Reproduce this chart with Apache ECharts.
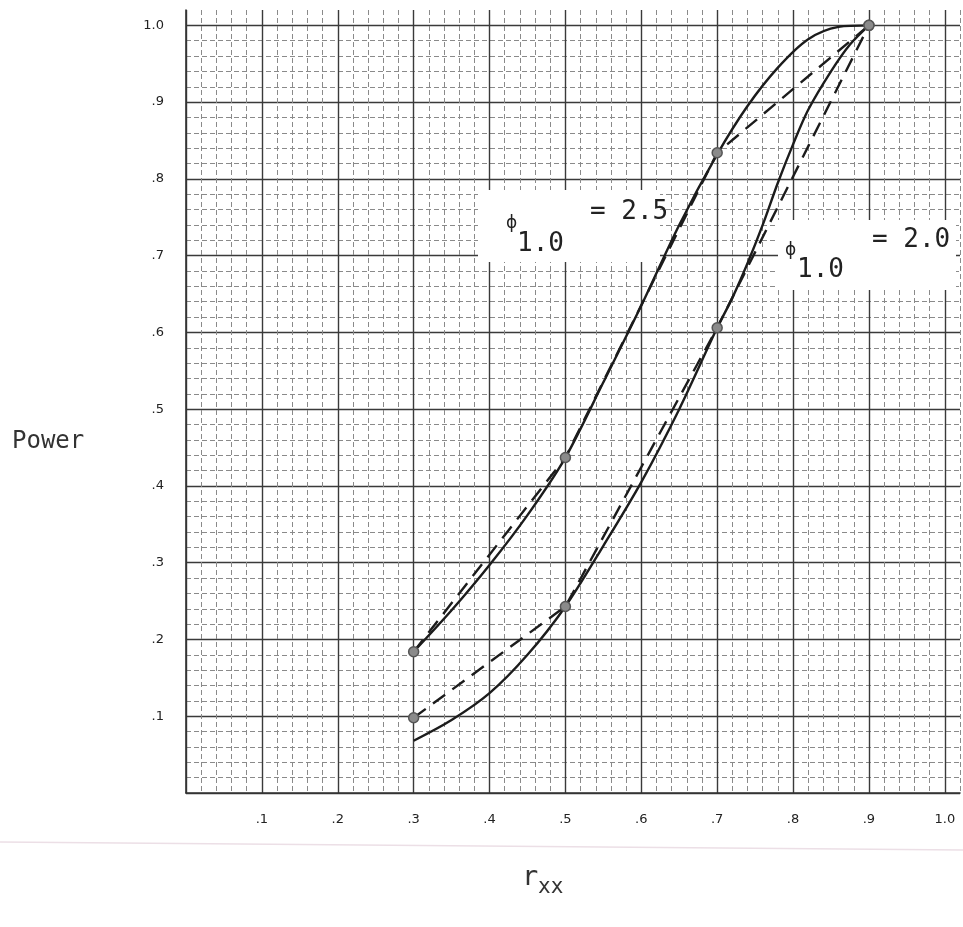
<!DOCTYPE html>
<html>
<head>
<meta charset="utf-8">
<script src="https://cdn.jsdelivr.net/npm/echarts@6/dist/echarts.min.js"></script>
<style>
  html, body { margin: 0; padding: 0; background: #fff; }
  #main { width: 963px; height: 927px; }
</style>
</head>
<body>
<div id="main"></div>
<script>
// theoretical points (markers, joined by dashed lines)
var rxxPoints = [0.3, 0.5, 0.7, 0.9];
var powerDashed25 = [0.184, 0.437, 0.834, 1.0];
var powerDashed20 = [0.098, 0.243, 0.606, 1.0];

// smooth curves (solid)
var rxxSolid25 = [0.30, 0.35, 0.40, 0.45, 0.50, 0.55, 0.60, 0.65, 0.70, 0.74, 0.78, 0.82, 0.86, 0.90];
var powerSolid25 = [0.184, 0.238, 0.297, 0.362, 0.437, 0.535, 0.635, 0.740, 0.832, 0.895, 0.945, 0.982, 0.998, 1.0];

var rxxSolid20 = [0.30, 0.35, 0.40, 0.45, 0.50, 0.55, 0.60, 0.65, 0.70, 0.72, 0.74, 0.76, 0.78, 0.80, 0.82, 0.85, 0.875, 0.90];
var powerSolid20 = [0.068, 0.095, 0.130, 0.180, 0.243, 0.322, 0.405, 0.500, 0.606, 0.645, 0.690, 0.740, 0.795, 0.845, 0.890, 0.940, 0.975, 1.0];

function pairs(xs, ys) {
  var out = [];
  for (var i = 0; i < xs.length; i++) out.push([xs[i], ys[i]]);
  return out;
}

function tickLabel(v) {
  if (v < 0.05 || v > 1.01) return '';
  return v > 0.95 ? '1.0' : '.' + Math.round(v * 10);
}

var chart = echarts.init(document.getElementById('main'));

var minorLine = { show: true, lineStyle: { color: '#8a8a8a', width: 1, type: [5, 3] } };
var majorLine = { show: true, showMaxLine: false, lineStyle: { color: '#3a3a3a', width: 1.4 } };
var labelStyle = { fontFamily: 'DejaVu Sans', fontSize: 13, color: '#222' };

var lineColor = '#1c1c1c';
var markerStyle = { color: '#8a8a8a', borderColor: '#555', borderWidth: 1.5 };

var option = {
  backgroundColor: '#fff',
  animation: false,
  grid: { left: 186, right: 3, top: 10, bottom: 134 },
  xAxis: [{
    // graph paper minor lines
    type: 'value', min: 0, max: 1.02, interval: 0.02,
    axisLine: { show: false }, axisTick: { show: false }, axisLabel: { show: false },
    splitLine: minorLine
  }, {
    type: 'value', min: 0, max: 1.02, interval: 0.1, position: 'bottom',
    axisLine: { show: true, lineStyle: { color: '#333', width: 1.6 } },
    axisTick: { show: false },
    axisLabel: Object.assign({ margin: 20, formatter: tickLabel }, labelStyle),
    splitLine: majorLine
  }],
  yAxis: [{
    type: 'value', min: 0, max: 1.02, interval: 0.02,
    axisLine: { show: false }, axisTick: { show: false }, axisLabel: { show: false },
    splitLine: { show: true, showMaxLine: false, lineStyle: minorLine.lineStyle }
  }, {
    type: 'value', min: 0, max: 1.02, interval: 0.1, position: 'left',
    axisLine: { show: true, lineStyle: { color: '#333', width: 1.6 } },
    axisTick: { show: false },
    axisLabel: Object.assign({ margin: 22, formatter: tickLabel }, labelStyle),
    splitLine: majorLine
  }],
  graphic: [
    { type: 'rect', z: 1, shape: { x: 478, y: 190, width: 182, height: 72 }, style: { fill: '#fff' } },
    { type: 'text', z: 1, x: 506, y: 224, style: { text: 'ϕ', font: '17px "DejaVu Sans"', fill: '#222', verticalAlign: 'middle' } },
    { type: 'text', z: 1, x: 517, y: 244, style: { text: '1.0', font: '26px "DejaVu Sans Mono"', fill: '#222', verticalAlign: 'middle' } },
    { type: 'text', z: 1, x: 590, y: 212, style: { text: '= 2.5', font: '26px "DejaVu Sans Mono"', fill: '#222', verticalAlign: 'middle' } },

    { type: 'rect', z: 1, shape: { x: 778, y: 220, width: 178, height: 70 }, style: { fill: '#fff' } },
    { type: 'text', z: 1, x: 785, y: 251, style: { text: 'ϕ', font: '17px "DejaVu Sans"', fill: '#222', verticalAlign: 'middle' } },
    { type: 'text', z: 1, x: 797, y: 270, style: { text: '1.0', font: '26px "DejaVu Sans Mono"', fill: '#222', verticalAlign: 'middle' } },
    { type: 'text', z: 1, x: 872, y: 240, style: { text: '= 2.0', font: '26px "DejaVu Sans Mono"', fill: '#222', verticalAlign: 'middle' } },

    { type: 'text', x: 12, y: 442, style: { text: 'Power', font: '24px "DejaVu Sans Mono"', fill: '#333', verticalAlign: 'middle' } },
    { type: 'text', x: 522, y: 878, style: { text: 'r', font: '27px "DejaVu Sans Mono"', fill: '#333', verticalAlign: 'middle' } },
    { type: 'text', x: 538, y: 888, style: { text: 'xx', font: '21px "DejaVu Sans Mono"', fill: '#333', verticalAlign: 'middle' } },

    { type: 'line', shape: { x1: 0, y1: 842, x2: 963, y2: 850 }, style: { stroke: '#ecdfe6', lineWidth: 1.5 } }
  ],
  series: [{
    name: 'phi2.5 curve', type: 'line', xAxisIndex: 1, yAxisIndex: 1,
    data: pairs(rxxSolid25, powerSolid25), smooth: 0.3, showSymbol: false,
    lineStyle: { color: lineColor, width: 2.4 }
  }, {
    name: 'phi2.0 curve', type: 'line', xAxisIndex: 1, yAxisIndex: 1,
    data: pairs(rxxSolid20, powerSolid20), smooth: 0.3, showSymbol: false,
    lineStyle: { color: lineColor, width: 2.4 }
  }, {
    name: 'phi2.5 points', type: 'line', xAxisIndex: 1, yAxisIndex: 1,
    data: pairs(rxxPoints, powerDashed25), symbol: 'circle', symbolSize: 10,
    lineStyle: { color: lineColor, width: 2.4, type: [15, 9] },
    itemStyle: markerStyle, z: 3
  }, {
    name: 'phi2.0 points', type: 'line', xAxisIndex: 1, yAxisIndex: 1,
    data: pairs(rxxPoints, powerDashed20), symbol: 'circle', symbolSize: 10,
    lineStyle: { color: lineColor, width: 2.4, type: [15, 9] },
    itemStyle: markerStyle, z: 3
  }]
};

chart.setOption(option);
</script>
</body>
</html>
